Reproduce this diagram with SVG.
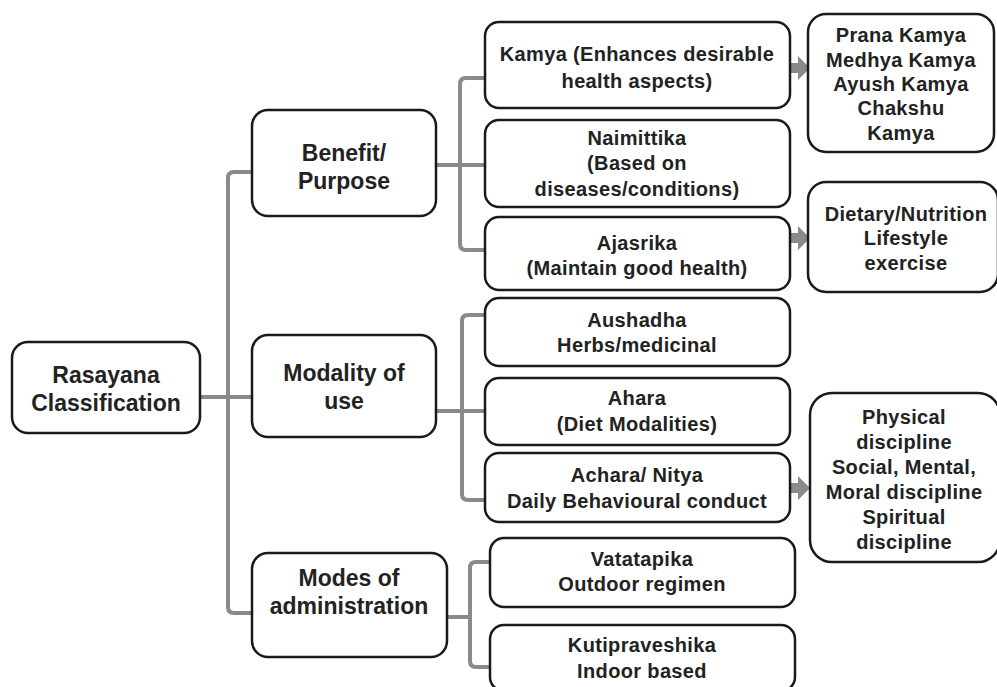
<svg xmlns="http://www.w3.org/2000/svg" width="997" height="687" viewBox="0 0 997 687">
<style>
.box{fill:#fff;stroke:#1a1a1a;stroke-width:2.5}
.t1{font-family:"Liberation Sans",Arial,sans-serif;font-weight:bold;font-size:23px;fill:#222;text-anchor:middle}
.t2{font-family:"Liberation Sans",Arial,sans-serif;font-weight:bold;font-size:20px;letter-spacing:0.35px;fill:#222;text-anchor:middle}
.c{fill:none;stroke:#8a8a8a;stroke-width:4;stroke-linejoin:round}
.a{fill:#8a8a8a}
</style>
<rect width="997" height="687" fill="#fff"/>
<g id="connectors">
<path class="c" d="M200,397 H252"/>
<path class="c" d="M252,172 H234 Q228,172 228,178 V607 Q228,613 234,613 H252"/>
<path class="c" d="M436,165 H485"/>
<path class="c" d="M485,78 H466 Q460,78 460,84 V244 Q460,250 466,250 H485"/>
<path class="c" d="M436,411 H485"/>
<path class="c" d="M485,315 H468 Q462,315 462,321 V494 Q462,500 468,500 H485"/>
<path class="c" d="M447,617 H470"/>
<path class="c" d="M490,562 H476 Q470,562 470,568 V661 Q470,667 476,667 H490"/>
<polygon class="a" points="790,63 798,63 798,56 810,68 798,80 798,73 790,73"/>
<polygon class="a" points="790,233 798,233 798,226 810,238 798,250 798,243 790,243"/>
<polygon class="a" points="790,483 798,483 798,476 810,488 798,500 798,493 790,493"/>
</g>
<g id="root"><rect class="box" x="12" y="342" width="188" height="91" rx="16"/>
<text class="t1" x="106" y="383">Rasayana</text><text class="t1" x="106" y="411">Classification</text></g>
<g id="benefit"><rect class="box" x="252" y="110" width="184" height="106" rx="16"/>
<text class="t1" x="344" y="161">Benefit/</text><text class="t1" x="344" y="189">Purpose</text></g>
<g id="modality"><rect class="box" x="252" y="335" width="184" height="102" rx="16"/>
<text class="t1" x="344" y="381">Modality of</text><text class="t1" x="344" y="409">use</text></g>
<g id="modes"><rect class="box" x="252" y="553" width="195" height="104" rx="16"/>
<text class="t1" x="349" y="586">Modes of</text><text class="t1" x="349" y="614">administration</text></g>
<g id="kamya"><rect class="box" x="485" y="22" width="305" height="86" rx="14"/>
<text class="t2" x="637" y="61">Kamya (Enhances desirable</text><text class="t2" x="637" y="88">health aspects)</text></g>
<g id="naimittika"><rect class="box" x="485" y="120" width="305" height="87" rx="14"/>
<text class="t2" x="637" y="145">Naimittika</text><text class="t2" x="637" y="170">(Based on</text><text class="t2" x="637" y="196">diseases/conditions)</text></g>
<g id="ajasrika"><rect class="box" x="485" y="217" width="305" height="73" rx="14"/>
<text class="t2" x="637" y="250">Ajasrika</text><text class="t2" x="637" y="275">(Maintain good health)</text></g>
<g id="aushadha"><rect class="box" x="485" y="298" width="305" height="68" rx="14"/>
<text class="t2" x="637" y="327">Aushadha</text><text class="t2" x="637" y="352">Herbs/medicinal</text></g>
<g id="ahara"><rect class="box" x="485" y="378" width="305" height="67" rx="14"/>
<text class="t2" x="637" y="405">Ahara</text><text class="t2" x="637" y="431">(Diet Modalities)</text></g>
<g id="achara"><rect class="box" x="485" y="453" width="305" height="69" rx="14"/>
<text class="t2" x="637" y="482">Achara/ Nitya</text><text class="t2" x="637" y="508">Daily Behavioural conduct</text></g>
<g id="vatatapika"><rect class="box" x="490" y="538" width="305" height="69" rx="14"/>
<text class="t2" x="642" y="566">Vatatapika</text><text class="t2" x="642" y="591">Outdoor regimen</text></g>
<g id="kutipraveshika"><rect class="box" x="490" y="625" width="305" height="66" rx="14"/>
<text class="t2" x="642" y="652">Kutipraveshika</text><text class="t2" x="642" y="678">Indoor based</text></g>
<g id="kamya-types"><rect class="box" x="808" y="14" width="186" height="138" rx="18"/>
<text class="t2" x="901" y="42">Prana Kamya</text><text class="t2" x="901" y="67">Medhya Kamya</text><text class="t2" x="901" y="91">Ayush Kamya</text><text class="t2" x="901" y="115">Chakshu</text><text class="t2" x="901" y="140">Kamya</text></g>
<g id="ajasrika-types"><rect class="box" x="808" y="182" width="190" height="110" rx="18"/>
<text class="t2" x="906" y="221">Dietary/Nutrition</text><text class="t2" x="906" y="245">Lifestyle</text><text class="t2" x="906" y="270">exercise</text></g>
<g id="achara-types"><rect class="box" x="810" y="393" width="190" height="169" rx="22"/>
<text class="t2" x="904" y="424">Physical</text><text class="t2" x="904" y="449">discipline</text><text class="t2" x="904" y="474">Social, Mental,</text><text class="t2" x="904" y="499">Moral discipline</text><text class="t2" x="904" y="524">Spiritual</text><text class="t2" x="904" y="549">discipline</text></g>
</svg>
